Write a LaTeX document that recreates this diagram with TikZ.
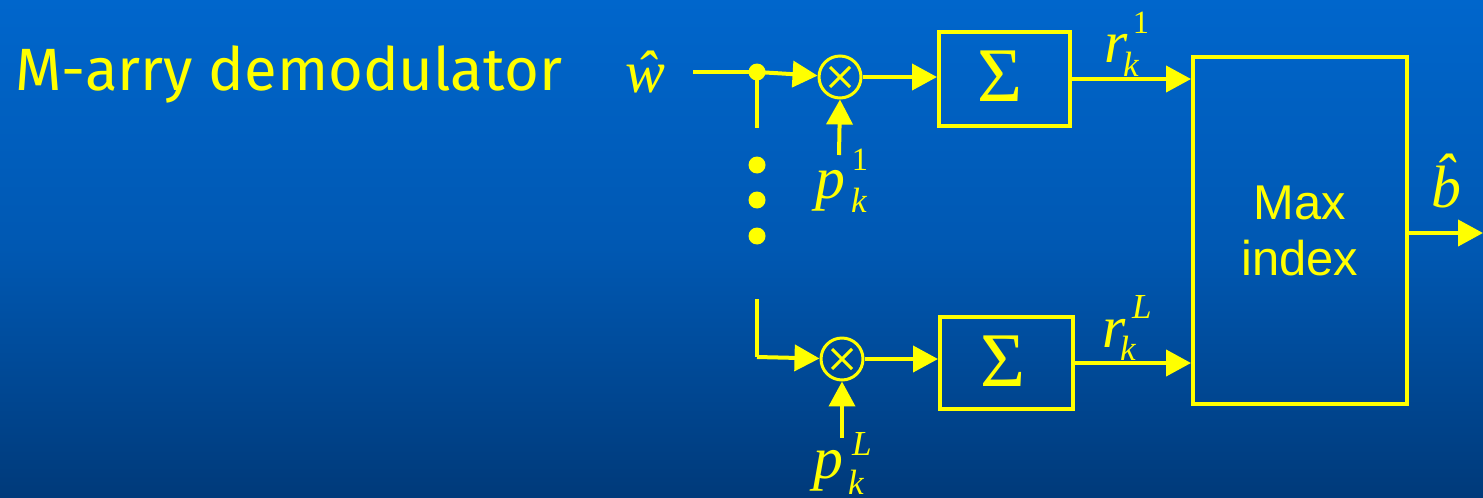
\documentclass[tikz,border=0pt]{standalone}
\usepackage{fontspec}
\setmainfont{Liberation Serif}
\newfontfamily\labelfont{Liberation Sans}
\newfontfamily\titlefont{Fira Sans}
\usetikzlibrary{arrows.meta}
\definecolor{bgtop}{RGB}{0,102,204}
\definecolor{bgmid}{RGB}{0,88,178}
\definecolor{bgbot}{RGB}{0,58,122}
\definecolor{sig}{RGB}{255,255,0}
\tikzset{
  wire/.style={draw=sig, line width=0.08cm},
  arr/.style={wire, -{Triangle[length=0.5cm, width=0.52cm]}},
  blockbox/.style={draw=sig, line width=0.08cm, rectangle, inner sep=0pt},
  mixer/.style={draw=sig, line width=0.06cm, circle, inner sep=0pt, minimum size=0.84cm},
  dot/.style={fill=sig, circle, inner sep=0pt, minimum size=#1},
  sym/.style={text=sig, anchor=base, inner sep=0pt, font=\fontsize{34}{34}\selectfont\itshape},
  sup/.style={text=sig, anchor=base, inner sep=0pt, font=\fontsize{18.5}{18.5}\selectfont},
  supi/.style={text=sig, anchor=base, inner sep=0pt, font=\fontsize{20}{20}\selectfont\itshape},
  sumsign/.style={text=sig, inner sep=0pt, font=\fontsize{44}{44}\selectfont},
}
\begin{document}
\begin{tikzpicture}[x=0.02cm, y=-0.02cm]
% background
\shade[top color=bgtop, bottom color=bgbot, middle color=bgmid] (0,0) rectangle (1483,497);
\useasboundingbox (0,0) rectangle (1483,497);

% title
\node[anchor=base west, text=sig, inner sep=0pt, font=\titlefont\fontsize{34}{34}\selectfont] (title) at (15,90) {M-arry demodulator};

% blocks
\node[mixer] (mul1) at (840,77) {};
\node[mixer] (mul2) at (842,359) {};
\node[blockbox, minimum width=2.62cm, minimum height=1.88cm] (box1) at (1004.5,79) {};
\node[blockbox, minimum width=2.66cm, minimum height=1.84cm] (box2) at (1006.5,363) {};
\node[blockbox, minimum width=4.28cm, minimum height=6.94cm, text=sig, align=center,
      font=\labelfont\fontsize{27.8}{31.9}\selectfont] (maxbox) at (1300,230.5) {Max\\index};
\node[sumsign] (sum1) at (1000,76) {Σ};
\node[sumsign] (sum2) at (1003,361) {Σ};

% crosses in the mixers
\foreach \m in {mul1,mul2}{
  \draw[sig, line width=0.06cm] (\m.center) ++(-10,-10) -- ++(20,20);
  \draw[sig, line width=0.06cm] (\m.center) ++(-10,10) -- ++(20,-20);
}

% points on the input path
\coordinate (in) at (693,72);
\node[dot=0.34cm] (j1) at (757,72) {};
\coordinate (v1end) at (757,128);
\node[dot=0.34cm] (d1) at (757,165) {};
\node[dot=0.34cm] (d2) at (757,200) {};
\node[dot=0.34cm] (d3) at (757,236) {};
\coordinate (b2top) at (757,299);
\coordinate (b2corner) at (757,357);
\coordinate (p1tail) at (839,155);
\coordinate (p2tail) at (842,438);
\coordinate (out) at (1483,233);

% connectors
\draw[wire] (in) -- (j1.center);
\draw[wire] (j1.center) -- (v1end);
\draw[arr] (j1.center) -- (mul1);
\draw[wire] (b2top) -- (b2corner);
\draw[arr] (b2corner) -- (mul2);
\draw[arr] (mul1.east) -- (mul1.east -| box1.west);
\draw[arr] (mul2.east) -- (mul2.east -| box2.west);
\draw[arr] (p1tail) -- (mul1.south);
\draw[arr] (p2tail) -- (mul2.south);
\draw[arr] (box1.east) -- (box1.east -| maxbox.west);
\draw[arr] (box2.east) -- (box2.east -| maxbox.west);
\draw[arr] (maxbox.east |- out) -- (out);

% signal labels
\node[sym] (w) at (645,92) {\^{w}};

\node[sym] (p1) at (830,198) {p};
\node[sup] (p1s) at (860,170) {1};
\node[supi] (p1k) at (859,212) {k};

\node[sym] (pL) at (828,478) {p};
\node[supi] (pLs) at (862,455) {L};
\node[supi] (pLk) at (856,494) {k};

\node[sym] (r1) at (1116,62) {r};
\node[sup] (r1s) at (1141,33) {1};
\node[supi] (r1k) at (1131,76) {k};

\node[sym] (rL) at (1114,347) {r};
\node[supi] (rLs) at (1142,318) {L};
\node[supi] (rLk) at (1128,360) {k};

\node[sym] (b) at (1446,207) {\^{b}};
\end{tikzpicture}
\end{document}
